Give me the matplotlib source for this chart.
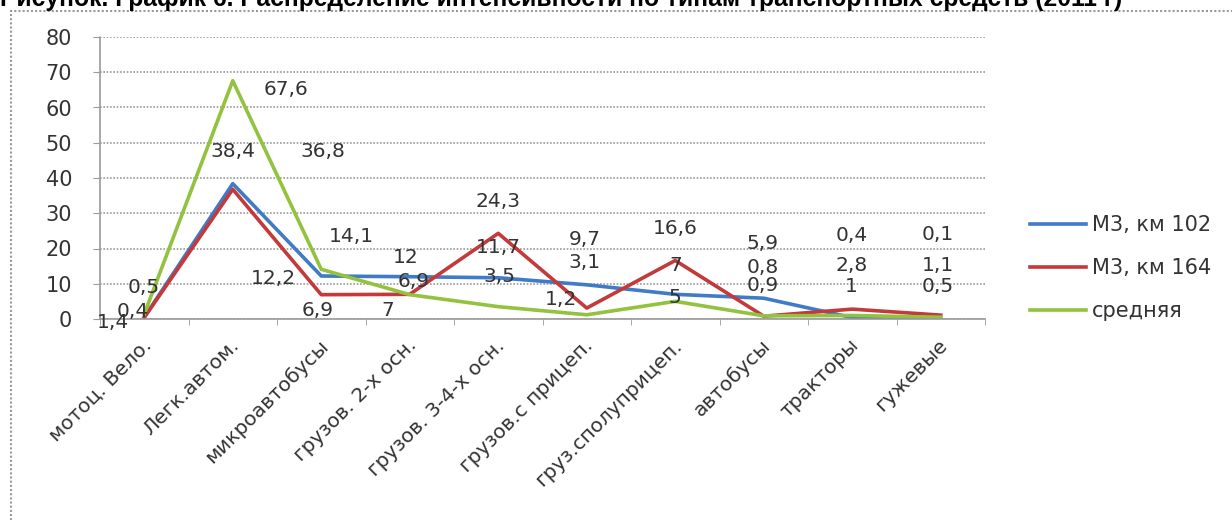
import matplotlib
matplotlib.use("Agg")
import matplotlib.pyplot as plt
import matplotlib.transforms as mtransforms
from matplotlib.patches import Rectangle

# Data
categories = ["мотоц. Вело.", "Легк.автом.", "микроавтобусы", "грузов. 2-х осн.",
              "грузов. 3-4-х осн.", "грузов.с прицеп.", "груз.сполуприцеп.",
              "автобусы", "тракторы", "гужевые"]
km102 = [0.5, 38.4, 12.2, 12, 11.7, 9.7, 7, 5.9, 0.4, 0.1]
km164 = [0.4, 36.8, 6.9, 7, 24.3, 3.1, 16.6, 0.8, 2.8, 1.1]
avg = [1.4, 67.6, 14.1, 6.9, 3.5, 1.2, 5, 0.9, 1, 0.5]
names = ["М3, км 102", "М3, км 164", "средняя"]
y_ticks = [0, 10, 20, 30, 40, 50, 60, 70, 80]
title = "Рисунок. График 6. Распределение интенсивности по типам транспортных средств (2011 г)"

# data label offsets (pixels) from each point, as placed in the original
off102 = [(-1, 30), (0, 32), (-48, -3), (-4, 19), (0, 30), (-2, 45), (0, 29), (-1, 55), (-1, 82), (-3, 84)]
off164 = [(-12, 6), (90, 38), (-4, -16), (-22, -16), (0, 32), (-2, 46), (0, 32), (-1, 49), (-1, 44), (-3, 50)]
offavg = [(-31, -8), (53, -9), (30, 33), (4, 13), (1, 30), (-26, 15), (0, 4), (-1, 30), (-1, 29), (-3, 31)]

colors = ["#3f7bc6", "#c4393a", "#93c23f"]
grey = "#9a9a9a"
txt = "#333333"

fig = plt.figure(figsize=(12.32, 5.2), dpi=100)
ax = fig.add_axes([100 / 1232, 1 - 319 / 520, 885 / 1232, 282 / 520])

x = list(range(len(categories)))
for vals, c, name in zip([km102, km164, avg], colors, names):
    ax.plot(x, vals, color=c, lw=2.6, label=name)

for vals, offs in zip([km102, km164, avg], [off102, off164, offavg]):
    for i, v in enumerate(vals):
        ax.annotate(f"{v:g}".replace(".", ","), (i, v), xytext=offs[i],
                    textcoords="offset pixels", ha="center", va="center",
                    fontsize=14.5, color=txt)

ax.set_xlim(-0.5, len(categories) - 0.5)
ax.set_ylim(0, 80)
ax.set_yticks(y_ticks)
ax.yaxis.grid(True, linestyle=(0, (1, 1)), color=grey, lw=1.2)
ax.set_axisbelow(True)
for s in ["top", "right"]:
    ax.spines[s].set_visible(False)
for s in ["left", "bottom"]:
    ax.spines[s].set_color(grey)
    ax.spines[s].set_linestyle((0, (1, 1)))
    ax.spines[s].set_linewidth(1.2)

ax.tick_params(axis="y", length=5, color=grey, pad=15, labelsize=15, labelcolor=txt)
ax.set_xticks(x, categories, rotation=45, ha="right", rotation_mode="anchor")
ax.set_xticks([i - 0.5 for i in range(len(categories) + 1)], minor=True)
ax.tick_params(axis="x", which="major", length=0, pad=12, labelsize=14.5, labelcolor=txt)
ax.tick_params(axis="x", which="minor", length=4, color=grey)
shift = mtransforms.ScaledTranslation(-3 / 100, 0, fig.dpi_scale_trans)
for lbl in ax.get_xticklabels():
    lbl.set_transform(lbl.get_transform() + shift)

fig.legend(loc="center left", bbox_to_anchor=(1020 / 1232, 1 - 268 / 520), frameon=False,
           fontsize=15, handlelength=2.65, handletextpad=0.3, labelspacing=1.1,
           borderpad=0, labelcolor=txt)

# outer chart border (runs off the right and bottom edges)
fig.patches.append(Rectangle((11 / 1232, -0.1), 1.2, 1.1 - 11 / 520, transform=fig.transFigure,
                             fill=False, ec=grey, ls=(0, (1, 1)), lw=1.5))

# title is cut off at the top edge in the original
t = fig.text(0, 1 - 6 / 520, title, fontsize=16, fontweight="bold",
             family="Liberation Sans", ha="left", va="baseline")
fig.canvas.draw()
w = t.get_window_extent().width
t.set_fontsize(16 * 1117 / w)

fig.savefig("out.png", dpi=100)
